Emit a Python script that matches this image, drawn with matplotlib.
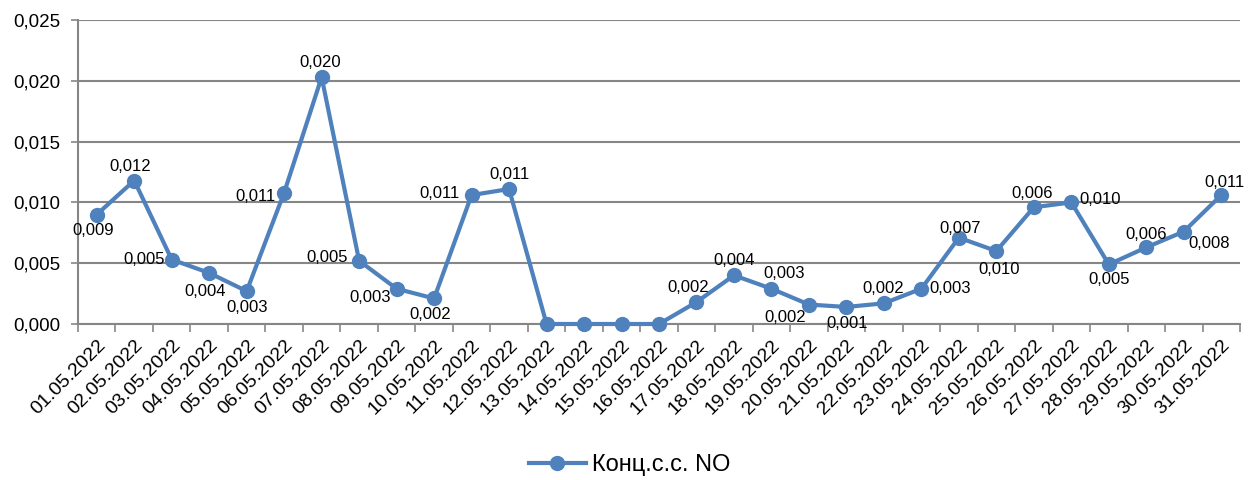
import numpy as np
import matplotlib.pyplot as plt

# Daten
dates = ['%02d.05.2022' % d for d in range(1, 32)]
values = [0.0090, 0.0118, 0.0053, 0.0042, 0.0027, 0.0108, 0.0203, 0.0052,
          0.0029, 0.0021, 0.0106, 0.0111, 0.0, 0.0, 0.0, 0.0,
          0.0018, 0.0040, 0.0029, 0.0016, 0.0014, 0.0017, 0.0029, 0.0071,
          0.0060, 0.0096, 0.0100, 0.0049, 0.0063, 0.0076, 0.0106]
# Beschriftungen wie im Original (None = keine)
labels = ['0,009', '0,012', '0,005', '0,004', '0,003', '0,011', '0,020', '0,005',
          '0,003', '0,002', '0,011', '0,011', None, None, None, None,
          '0,002', '0,004', '0,003', '0,002', '0,001', '0,002', '0,003', '0,007',
          '0,010', '0,006', '0,010', '0,005', '0,006', '0,008', '0,011']
# Versatz der Beschriftungen in Pixel (dx, dy nach unten)
offsets = [(-4, 16), (-4, -14), (-28, 0), (-4, 19), (0, 16), (-29, 4), (-1, -15), (-32, -3),
           (-26, 9), (-4, 16), (-32, -2), (0, -15), None, None, None, None,
           (-8, -15), (0, -15), (13, -15), (-24, 13), (1, 17), (-1, -15), (29, 0), (1, -9),
           (3, 18), (-2, -14), (29, -3), (0, 15), (0, -13), (25, 12), (3, -13)]

blue = '#4F81BD'
grid = '#868686'
plt.rcParams['font.family'] = ['Liberation Sans', 'DejaVu Sans']

fig = plt.figure(figsize=(12.59, 4.8), dpi=100)
ax = fig.add_axes([78 / 1259, 1 - 324 / 480, (1240 - 78) / 1259, (324 - 20) / 480])

x = np.arange(len(dates))
line, = ax.plot(x, values, color=blue, lw=3, marker='o', ms=10, label='Конц.с.с. NO',
                zorder=3, clip_on=False)

for xi, v, lab, off in zip(x, values, labels, offsets):
    if lab is None:
        continue
    ax.annotate(lab, (xi, v), xytext=(off[0], -off[1]), textcoords='offset pixels',
                ha='center', va='center', fontsize=12, color='black', zorder=4)

ax.set_xlim(-0.5, len(dates) - 0.5)
ax.set_ylim(0, 0.025)
yt = np.arange(0, 0.0251, 0.005)
ax.set_yticks(yt)
ax.set_yticklabels([('%.3f' % t).replace('.', ',') for t in yt], fontsize=13.5)
ax.yaxis.grid(True, color=grid, lw=1.5)
ax.set_axisbelow(True)

ax.set_xticks(x)
ax.set_xticklabels(dates, rotation=45, ha='right', va='top', rotation_mode='anchor',
                   fontsize=14)
ax.tick_params(axis='x', length=0, pad=9)
ax.set_xticks(np.arange(-0.5, len(dates), 1), minor=True)
ax.tick_params(axis='x', which='minor', length=6, color=grid, width=1.2)
ax.tick_params(axis='y', length=5, color=grid, width=1.2, pad=8)

for s in ['top', 'right']:
    ax.spines[s].set_visible(False)
for s in ['left', 'bottom']:
    ax.spines[s].set_color(grid)
    ax.spines[s].set_linewidth(1.5)

fig.legend(handles=[line], loc='center', bbox_to_anchor=(0.5, 15 / 480), frameon=False,
           fontsize=17, handlelength=2.4, handletextpad=0.25)

fig.savefig('out.png', dpi=100)
